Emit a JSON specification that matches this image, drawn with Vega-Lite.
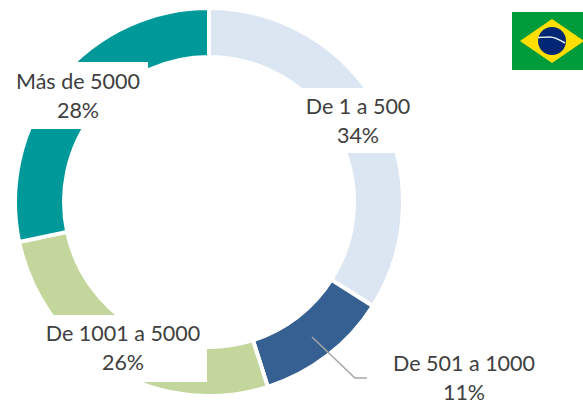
{
  "$schema": "https://vega.github.io/schema/vega-lite/v6.json",
  "width": 583,
  "height": 403,
  "padding": 0,
  "autosize": {"type": "none"},
  "background": "white",
  "config": {"view": {"stroke": null}},
  "layer": [
    {
      "data": {"values": [
        {"category": "De 1 a 500", "value": 34, "idx": 1, "cx": 209, "cy": 202},
        {"category": "De 501 a 1000", "value": 11.1, "idx": 2, "cx": 209, "cy": 202},
        {"category": "De 1001 a 5000", "value": 26.6, "idx": 3, "cx": 209, "cy": 202},
        {"category": "Más de 5000", "value": 28.3, "idx": 4, "cx": 209, "cy": 202}
      ]},
      "mark": {"type": "arc", "radius": 194, "radius2": 145, "stroke": "white", "strokeWidth": 4},
      "encoding": {
        "x": {"field": "cx", "type": "quantitative", "scale": {"domain": [0, 583], "range": [0, 583], "nice": false, "zero": false}, "axis": null},
        "y": {"field": "cy", "type": "quantitative", "scale": {"domain": [0, 403], "range": [0, 403], "nice": false, "zero": false}, "axis": null},
        "theta": {"field": "value", "type": "quantitative", "stack": true},
        "order": {"field": "idx", "type": "quantitative"},
        "color": {"field": "category", "type": "nominal", "legend": null, "scale": {"domain": ["De 1 a 500", "De 501 a 1000", "De 1001 a 5000", "Más de 5000"], "range": ["#DCE6F2", "#366092", "#C3D69B", "#009999"]}}
      }
    },
    {
      "data": {"values": [
        {"x1": 300, "x2": 420, "y1": 88, "y2": 153, "fill": "white"},
        {"x1": 0, "x2": 148, "y1": 62, "y2": 129, "fill": "white"},
        {"x1": 40, "x2": 207, "y1": 315, "y2": 382, "fill": "white"},
        {"x1": 512, "x2": 583, "y1": 12, "y2": 70, "fill": "#009B3A"}
      ]},
      "mark": {"type": "rect"},
      "encoding": {
        "x": {"field": "x1", "type": "quantitative", "scale": {"domain": [0, 583], "range": [0, 583], "nice": false, "zero": false}, "axis": null},
        "x2": {"field": "x2"},
        "y": {"field": "y1", "type": "quantitative", "scale": {"domain": [0, 403], "range": [0, 403], "nice": false, "zero": false}, "axis": null},
        "y2": {"field": "y2"},
        "fill": {"field": "fill", "type": "nominal", "scale": null}
      }
    },
    {
      "data": {"values": [
        {"x": 312, "y": 337, "o": 1},
        {"x": 355, "y": 378, "o": 2},
        {"x": 367, "y": 378, "o": 3}
      ]},
      "mark": {"type": "line", "color": "#A6A6A6", "strokeWidth": 1.5},
      "encoding": {
        "x": {"field": "x", "type": "quantitative", "scale": {"domain": [0, 583], "range": [0, 583], "nice": false, "zero": false}, "axis": null},
        "y": {"field": "y", "type": "quantitative", "scale": {"domain": [0, 403], "range": [0, 403], "nice": false, "zero": false}, "axis": null},
        "order": {"field": "o", "type": "quantitative"}
      }
    },
    {
      "data": {"values": [{"x": 552, "y": 41}]},
      "mark": {"type": "point", "shape": "M-1,0L0,-0.69L1,0L0,0.69Z", "size": 4096, "filled": true, "color": "#FEDF00", "opacity": 1},
      "encoding": {
        "x": {"field": "x", "type": "quantitative", "scale": {"domain": [0, 583], "range": [0, 583], "nice": false, "zero": false}, "axis": null},
        "y": {"field": "y", "type": "quantitative", "scale": {"domain": [0, 403], "range": [0, 403], "nice": false, "zero": false}, "axis": null}
      }
    },
    {
      "data": {"values": [{"x": 552, "y": 41}]},
      "mark": {"type": "point", "shape": "circle", "size": 784, "filled": true, "color": "#002776", "opacity": 1},
      "encoding": {
        "x": {"field": "x", "type": "quantitative", "scale": {"domain": [0, 583], "range": [0, 583], "nice": false, "zero": false}, "axis": null},
        "y": {"field": "y", "type": "quantitative", "scale": {"domain": [0, 403], "range": [0, 403], "nice": false, "zero": false}, "axis": null}
      }
    },
    {
      "data": {"values": [
        {"x": 538, "y": 37.5, "o": 1},
        {"x": 550, "y": 37, "o": 2},
        {"x": 565, "y": 43, "o": 3}
      ]},
      "mark": {"type": "line", "color": "#E8EEF0", "strokeWidth": 1.5, "interpolate": "monotone"},
      "encoding": {
        "x": {"field": "x", "type": "quantitative", "scale": {"domain": [0, 583], "range": [0, 583], "nice": false, "zero": false}, "axis": null},
        "y": {"field": "y", "type": "quantitative", "scale": {"domain": [0, 403], "range": [0, 403], "nice": false, "zero": false}, "axis": null},
        "order": {"field": "o", "type": "quantitative"}
      }
    },
    {
      "data": {"values": [
        {"x": 358, "y": 108, "label": "De 1 a 500\n34%"},
        {"x": 78, "y": 83, "label": "Más de 5000\n28%"},
        {"x": 123, "y": 335, "label": "De 1001 a 5000\n26%"},
        {"x": 464, "y": 365, "label": "De 501 a 1000\n11%"}
      ]},
      "mark": {"type": "text", "font": "Lato", "fontSize": 21.5, "lineHeight": 28.5, "color": "#404040", "align": "center", "baseline": "middle", "lineBreak": "\n"},
      "encoding": {
        "x": {"field": "x", "type": "quantitative", "scale": {"domain": [0, 583], "range": [0, 583], "nice": false, "zero": false}, "axis": null},
        "y": {"field": "y", "type": "quantitative", "scale": {"domain": [0, 403], "range": [0, 403], "nice": false, "zero": false}, "axis": null},
        "text": {"field": "label", "type": "nominal"}
      }
    }
  ]
}
